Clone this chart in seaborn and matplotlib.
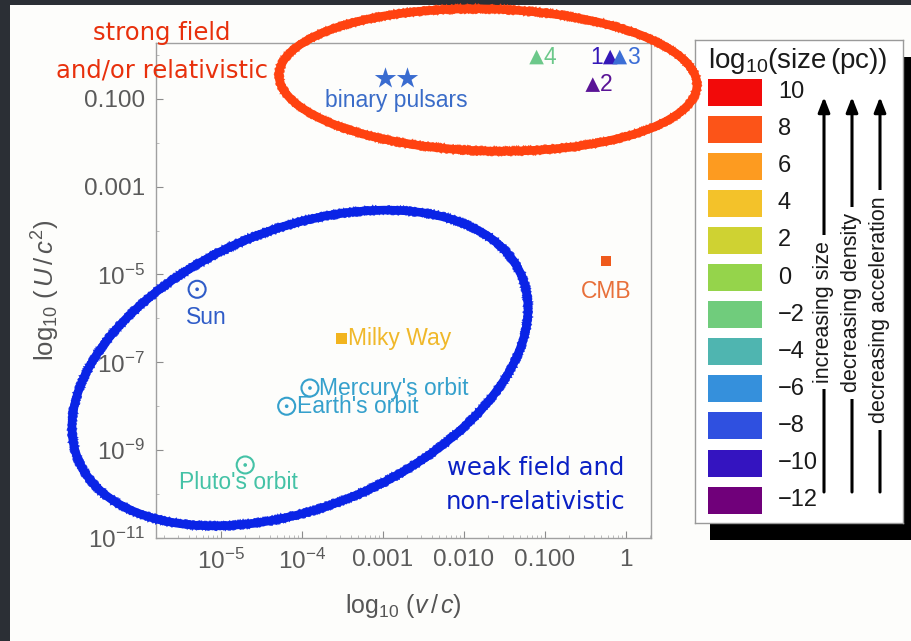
import numpy as np
import pandas as pd
import seaborn as sns
import matplotlib
matplotlib.use("Agg")
import matplotlib.pyplot as plt
from matplotlib.patches import Ellipse, Rectangle
from matplotlib.ticker import FixedLocator, NullFormatter

# ---------------- data ----------------
star_v = [1.06e-3, 2.0e-3]
star_U = [0.30, 0.30]
star_label = "binary pulsars"

tri_names = ["1", "2", "3", "4"]
tri_v = [0.64, 0.39, 0.84, 0.079]
tri_U = [0.89, 0.21, 0.89, 0.89]
tri_colors = ["#3418b8", "#5a1496", "#3c6ed6", "#6cc88a"]

sq_names = ["CMB", "Milky Way"]
sq_v = [0.57, 3.1e-4]
sq_U = [2.0e-5, 3.5e-7]
sq_colors = ["#ef5a1c", "#f2b41e"]

sol_names = ["Sun", "Mercury's orbit", "Earth's orbit", "Pluto's orbit"]
sol_v = [5.1e-6, 1.26e-4, 6.5e-5, 2.0e-5]
sol_U = [4.6e-6, 2.6e-8, 1.0e-8, 4.6e-10]
sol_colors = ["#2f5cc8", "#35a0cc", "#35a0cc", "#44c2a6"]

size_levels = [10, 8, 6, 4, 2, 0, -2, -4, -6, -8, -10, -12]
size_colors = ["#f20a0a", "#fc5418", "#fd9b20", "#f3c22a", "#cfd232", "#95d44b",
               "#70cc7c", "#4fb5b0", "#3590dc", "#2f50e0", "#3414c0", "#70007a"]

x_ticks = [1e-5, 1e-4, 1e-3, 1e-2, 1e-1, 1]
x_ticklabels = [r"$10^{-5}$", r"$10^{-4}$", "0.001", "0.010", "0.100", "1"]
y_ticks = [1e-11, 1e-9, 1e-7, 1e-5, 1e-3, 1e-1]
y_ticklabels = [r"$10^{-11}$", r"$10^{-9}$", r"$10^{-7}$", r"$10^{-5}$", "0.001", "0.100"]

arrow_texts = ["increasing size", "decreasing density", "decreasing acceleration"]

# ---------------- style ----------------
sns.set_style("ticks")
plt.rcParams["font.family"] = ["Liberation Sans", "DejaVu Sans"]
plt.rcParams["mathtext.fontset"] = "custom"
plt.rcParams["mathtext.rm"] = "Liberation Sans"
plt.rcParams["mathtext.it"] = "Liberation Sans:italic"
plt.rcParams["mathtext.bf"] = "Liberation Sans:bold"

W, H = 9.11, 6.41
fig = plt.figure(figsize=(W, H), dpi=100)
fig.patch.set_facecolor("#2b2f35")
fig.add_artist(Rectangle((10 / 911, -0.01), 1, 1.01 - 5 / 641, transform=fig.transFigure,
                         facecolor="#fdfdfb", edgecolor="none", zorder=-10))

ax = fig.add_axes([156 / 911, (641 - 538) / 641, (651 - 156) / 911, (538 - 43) / 641])
ax.set_facecolor("#fdfdfb")
ax.set_xscale("log")
ax.set_yscale("log")
ax.set_xlim(10 ** -5.80, 10 ** 0.31)
ax.set_ylim(1e-11, 10 ** 0.27)

grey = "#8c8c8c"
for s in ax.spines.values():
    s.set_color("#a0a0a0")
    s.set_linewidth(1.0)

ax.xaxis.set_major_locator(FixedLocator(x_ticks))
ax.set_xticklabels(x_ticklabels)
ax.yaxis.set_major_locator(FixedLocator(y_ticks))
ax.set_yticklabels(y_ticklabels)
ax.xaxis.set_minor_locator(FixedLocator([10.0 ** k * m for k in range(-6, 1) for m in range(2, 10)]))
ax.yaxis.set_minor_locator(FixedLocator([10.0 ** k for k in range(-12, 1)]))
ax.xaxis.set_minor_formatter(NullFormatter())
ax.yaxis.set_minor_formatter(NullFormatter())
ax.tick_params(which="major", direction="in", length=5, width=0.8, color=grey,
               labelsize=17.5, labelcolor="#5a5a5a", pad=8)
ax.tick_params(which="minor", direction="in", length=2.5, width=0.6, color="#b0b0b0")

ax.set_xlabel(r"$\log_{10}\,(v\,/\,c)$", fontsize=18, color="#555555", labelpad=13)
ax.set_ylabel(r"$\log_{10}\,(\,U\,/\,c^2)$", fontsize=18.5, color="#555555", labelpad=16)

# ---------------- points ----------------
df_star = pd.DataFrame({"v": star_v, "U": star_U})
sns.scatterplot(data=df_star, x="v", y="U", marker="*", s=260, color="#3a6cd0",
                linewidth=0, ax=ax, zorder=5)
ax.annotate(star_label, (np.sqrt(star_v[0] * star_v[1]), star_U[0]), xytext=(0, -16),
            textcoords="offset points", ha="center", va="center", fontsize=16.5,
            color="#3a6cc8")

df_tri = pd.DataFrame({"v": tri_v, "U": tri_U, "name": tri_names})
sns.scatterplot(data=df_tri, x="v", y="U", hue="name", palette=dict(zip(tri_names, tri_colors)),
                marker="^", s=110, linewidth=0, ax=ax, legend=False, zorder=5)
tri_off = {"1": (-5, "right"), "2": (5, "left"), "3": (5, "left"), "4": (5, "left")}
for n, v, U, c in zip(tri_names, tri_v, tri_U, tri_colors):
    dx, ha = tri_off[n]
    ax.annotate(n, (v, U), xytext=(dx, 0), textcoords="offset points", ha=ha, va="center",
                fontsize=16.5, color=c)

df_sq = pd.DataFrame({"v": sq_v, "U": sq_U, "name": sq_names})
sns.scatterplot(data=df_sq, x="v", y="U", hue="name", palette=dict(zip(sq_names, sq_colors)),
                marker="s", s=55, linewidth=0, ax=ax, legend=False, zorder=5)
ax.annotate("CMB", (sq_v[0], sq_U[0]), xytext=(0, -22), textcoords="offset points",
            ha="center", va="center", fontsize=16.5, color="#e8703a")
ax.annotate("Milky Way", (sq_v[1], sq_U[1]), xytext=(4.5, 0), textcoords="offset points",
            ha="left", va="center", fontsize=16.5, color="#f0b82a")

# sun symbols (open circle with a central dot)
df_sol = pd.DataFrame({"v": sol_v, "U": sol_U, "name": sol_names})
ax.scatter(df_sol["v"], df_sol["U"], s=150, facecolors="none", edgecolors=sol_colors,
           linewidths=1.5, zorder=5)
sns.scatterplot(data=df_sol, x="v", y="U", hue="name", palette=dict(zip(sol_names, sol_colors)),
                marker="o", s=7, linewidth=0, ax=ax, legend=False, zorder=6)
sol_off = {"Sun": (7, -20, "center"), "Mercury's orbit": (6.5, 0, "left"),
           "Earth's orbit": (7.5, 0, "left"), "Pluto's orbit": (-5, -12.5, "center")}
for n, v, U, c in zip(sol_names, sol_v, sol_U, sol_colors):
    dx, dy, ha = sol_off[n]
    ax.annotate(n, (v, U), xytext=(dx, dy), textcoords="offset points", ha=ha, va="center",
                fontsize=16.5, color=c)

# ---------------- hand-drawn annotations ----------------
inch = fig.dpi_scale_trans


def rough_ellipse(center, w, h, angle, color):
    main = Ellipse(center, w, h, angle=angle, transform=inch, fill=False, edgecolor=color,
                   linewidth=6.2, zorder=20, clip_on=False)
    fig.add_artist(main)
    for dw in (-0.065, 0.065):
        e = Ellipse(center, w + dw, h + dw, angle=angle, transform=inch, fill=False,
                    edgecolor=color, linewidth=1.4, zorder=20, clip_on=False, alpha=0.9)
        e.set_sketch_params(scale=1.1, length=2.5, randomness=6)
        fig.add_artist(e)


rough_ellipse((3.00, 2.73), 4.80, 2.78, 22.5, "#0a24e6")
rough_ellipse((4.88, 5.61), 4.18, 1.42, -1.5, "#ff4210")

fig.text(162 / 911, 1 - 33 / 641, "strong field", ha="center", va="center", fontsize=17.5,
         color="#e8300c", family="DejaVu Sans")
fig.text(162 / 911, 1 - 70 / 641, "and/or relativistic", ha="center", va="center",
         fontsize=17.5, color="#e8300c", family="DejaVu Sans")
fig.text(536 / 911, 1 - 468 / 641, "weak field and", ha="center", va="center", fontsize=17.5,
         color="#0a20c4", family="DejaVu Sans")
fig.text(536 / 911, 1 - 502 / 641, "non-relativistic", ha="center", va="center",
         fontsize=17.5, color="#0a20c4", family="DejaVu Sans")

# ---------------- size legend ----------------
fig.add_artist(Rectangle((710 / 911, (641 - 540) / 641), 0.3, (540 - 57) / 641,
                         transform=fig.transFigure, facecolor="black", edgecolor="none",
                         zorder=-1))
lax = fig.add_axes([695 / 911, (641 - 523) / 641, (903 - 695) / 911, (523 - 40) / 641])
lax.set_facecolor("white")
lax.set_xlim(0, 208)
lax.set_ylim(483, 0)
lax.set_xticks([])
lax.set_yticks([])
for s in lax.spines.values():
    s.set_color("#9a9a9a")
    s.set_linewidth(1.0)

ys = [52 + 37.1 * i for i in range(len(size_levels))]
lax.barh(ys, [54] * len(ys), left=13, height=27, color=size_colors, edgecolor="none")
for y, lv in zip(ys, size_levels):
    lax.text(83, y, str(lv).replace("-", "\u2212"), ha="left", va="center", fontsize=17,
             color="#1a1a1a")
lax.text(103, 21, r"$\mathregular{log_{10}(size\,(pc))}$", ha="center", va="center",
         fontsize=20, color="#1a1a1a")

arrow_x = [129, 157, 185]
text_y = [272, 263, 270]
for x, t, ty in zip(arrow_x, arrow_texts, text_y):
    lax.annotate("", xy=(x, 57), xytext=(x, 452),
                 arrowprops=dict(arrowstyle="-|>,head_length=0.9,head_width=0.35",
                                 color="black", lw=2.2, shrinkA=0, shrinkB=0))
    lax.text(x, ty, t, rotation=90, ha="center", va="center", fontsize=15.5, color="#1a1a1a",
             bbox=dict(boxstyle="square,pad=0.3", facecolor="white", edgecolor="none"))

fig.savefig("out.png", dpi=100, facecolor=fig.get_facecolor())
